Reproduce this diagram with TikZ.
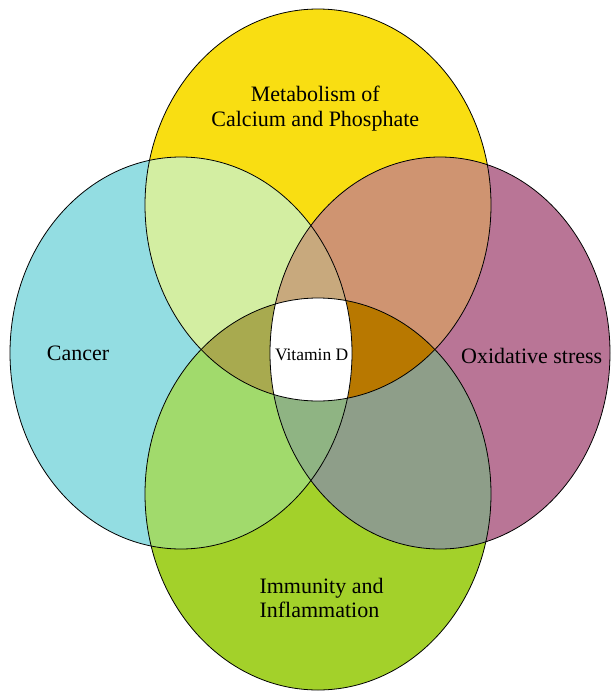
\documentclass[tikz,border=0pt]{standalone}
\usepackage{fontspec}
\setmainfont{Liberation Serif}
\definecolor{calcium}{HTML}{F9DE12}
\definecolor{cancer}{HTML}{93DDE2}
\definecolor{oxid}{HTML}{B97596}
\definecolor{immun}{HTML}{A3D12A}
\definecolor{tl}{HTML}{D3EEA2}
\definecolor{tr}{HTML}{CF9471}
\definecolor{lb}{HTML}{A1DA6C}
\definecolor{rb}{HTML}{8E9E89}
\definecolor{tlr}{HTML}{C8A97D}
\definecolor{tlb}{HTML}{A8AA4F}
\definecolor{trb}{HTML}{B87800}
\definecolor{lrb}{HTML}{8FB483}
% the four ellipses
\newcommand{\ellT}{(318,205) ellipse [x radius=173pt, y radius=196pt]}
\newcommand{\ellB}{(318,494) ellipse [x radius=173pt, y radius=196pt]}
\newcommand{\ellL}{(181,353) ellipse [x radius=171pt, y radius=196pt]}
\newcommand{\ellR}{(440,353) ellipse [x radius=170pt, y radius=196pt]}
\begin{document}
\begin{tikzpicture}[x=1pt, y=-1pt,
		label/.style={inner sep=0pt, font=\fontsize{22}{24.4}\selectfont, align=center}]
			\useasboundingbox (0,0) rectangle (611,691);
			% single sets
			\fill[calcium] \ellT;
			\fill[cancer] \ellL;
			\fill[oxid] \ellR;
			\fill[immun] \ellB;
			% two sets
			\begin{scope} \clip \ellT; \fill[tl] \ellL; \end{scope}
			\begin{scope} \clip \ellT; \fill[tr] \ellR; \end{scope}
			\begin{scope} \clip \ellB; \fill[lb] \ellL; \end{scope}
			\begin{scope} \clip \ellB; \fill[rb] \ellR; \end{scope}
			% three sets
			\begin{scope} \clip \ellT; \clip \ellL; \fill[tlr] \ellR; \end{scope}
			\begin{scope} \clip \ellT; \clip \ellL; \fill[tlb] \ellB; \end{scope}
			\begin{scope} \clip \ellT; \clip \ellR; \fill[trb] \ellB; \end{scope}
			\begin{scope} \clip \ellB; \clip \ellL; \fill[lrb] \ellR; \end{scope}
			% all four
			\begin{scope} \clip \ellT; \clip \ellB; \clip \ellL; \fill[white] \ellR; \end{scope}
			\foreach \e in {\ellT,\ellB,\ellL,\ellR}
				{
					\draw[line width=0.8pt] \e;
				}
			\node[label] (metab) at (315.3,108.4) {Metabolism of\\Calcium and Phosphate};
			\node[label, anchor=base] (cancer) at (78,360) {Cancer};
			\node[label, anchor=base] (oxid) at (531.7,363.3) {Oxidative stress};
			\node[label, align=left, anchor=west] (immun) at (259.3,598) {Immunity and\\Inflammation};
			\node[label, anchor=base, font=\fontsize{17.5}{20}\selectfont] (vitd) at (311.7,360) {Vitamin D};
		\end{tikzpicture}
\end{document}
